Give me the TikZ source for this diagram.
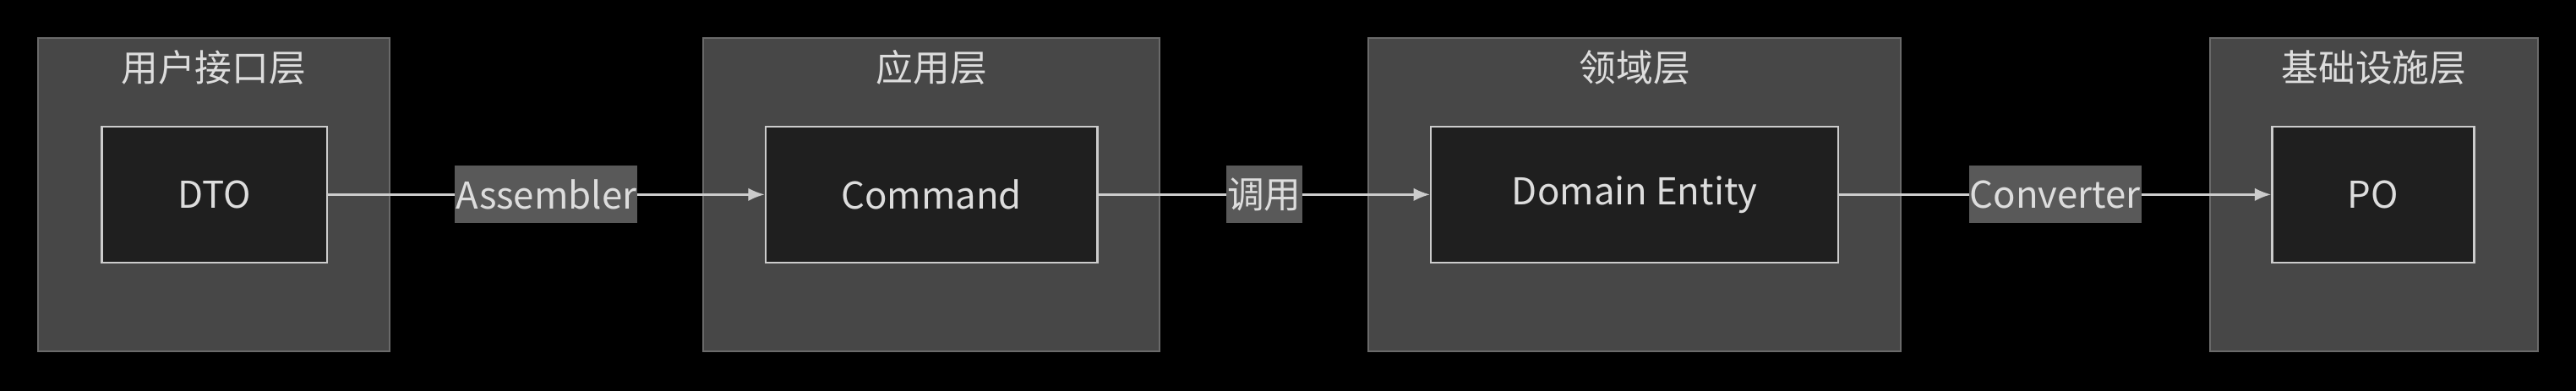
\documentclass[tikz,border=0pt]{standalone}
\usepackage{fontspec}
\setmainfont{Noto Sans CJK SC}
\usetikzlibrary{arrows.meta}
\definecolor{grp}{HTML}{474747}
\definecolor{grpb}{HTML}{6A6A6A}
\definecolor{nd}{HTML}{1F1F1F}
\definecolor{ndb}{HTML}{CCCCCC}
\definecolor{tx}{HTML}{DDDDDD}
\definecolor{lbl}{HTML}{595959}
\begin{document}
\begin{tikzpicture}[x=1pt,y=-1pt,
 grpst/.style={draw=grpb,fill=grp,line width=1pt},
 ndst/.style={draw=ndb,fill=nd,line width=1.2pt,text=tx,font=\fontsize{22.5}{26}\selectfont,inner sep=0pt},
 ttl/.style={text=tx,font=\fontsize{22.5}{26}\selectfont},
 edge/.style={draw=ndb,line width=1.2pt,-{Latex[length=10pt,width=8pt]}},
 el/.style={fill=lbl,text=tx,font=\fontsize{22.5}{26}\selectfont,inner sep=0.5pt,minimum height=35pt}]
\fill[black] (0,0) rectangle (1568,238);
\useasboundingbox (0,0) rectangle (1568,238);
\draw[grpst] (23,23) rectangle (237,214);
\draw[grpst] (428,23) rectangle (706,214);
\draw[grpst] (833,23) rectangle (1157,214);
\draw[grpst] (1345,23) rectangle (1545,214);
\node[ttl] (t1) at (130,41) {用户接口层};
\node[ttl] (t2) at (567,41) {应用层};
\node[ttl] (t3) at (995,41) {领域层};
\node[ttl] (t4) at (1445,41) {基础设施层};
\node[ndst,minimum width=137pt,minimum height=83pt] (dto) at (130.5,118.5) {DTO};
\node[ndst,minimum width=202pt,minimum height=83pt] (cmd) at (567,118.5) {Command};
\node[ndst,minimum width=248pt,minimum height=83pt] (dom) at (995,118.5) {Domain Entity};
\node[ndst,minimum width=123pt,minimum height=83pt] (po) at (1444.5,118.5) {PO};
\draw[edge] (dto) -- node[el] {Assembler} (cmd);
\draw[edge] (cmd) -- node[el] {调用} (dom);
\draw[edge] (dom) -- node[el] {Converter} (po);
\end{tikzpicture}
\end{document}
